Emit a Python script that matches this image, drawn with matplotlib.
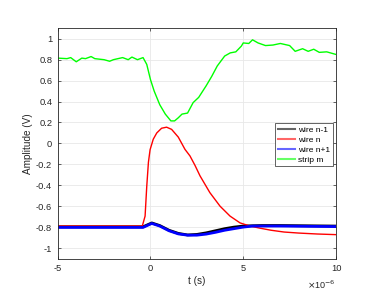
import matplotlib
matplotlib.use("Agg")
import matplotlib.pyplot as plt
from matplotlib.ticker import FuncFormatter

plt.rcParams['font.family'] = ['Liberation Sans', 'DejaVu Sans']
plt.rcParams['axes.unicode_minus'] = False

# times in microseconds
t_green = [-5, -4.5, -4.3, -4, -3.7, -3.5, -3.2, -3, -2.5, -2.2, -2, -1.5, -1.2, -1, -0.7, -0.4,
           -0.2, 0, 0.2, 0.5, 0.8, 1.1, 1.3, 1.5, 1.7, 2.0, 2.3, 2.6, 3.0, 3.3, 3.6, 4.0, 4.3,
           4.6, 4.9, 5.0, 5.3, 5.5, 5.8, 6.2, 6.6, 7.0, 7.5, 7.8, 8.2, 8.5, 8.8, 9.1, 9.5, 10]
strip_m = [0.815, 0.81, 0.82, 0.78, 0.815, 0.81, 0.83, 0.81, 0.80, 0.785, 0.80, 0.82, 0.80, 0.825,
           0.80, 0.82, 0.755, 0.61, 0.50, 0.37, 0.28, 0.215, 0.215, 0.245, 0.28, 0.29, 0.39, 0.44,
           0.55, 0.64, 0.74, 0.835, 0.865, 0.875, 0.93, 0.96, 0.955, 0.99, 0.96, 0.935, 0.94,
           0.955, 0.935, 0.88, 0.905, 0.88, 0.90, 0.87, 0.875, 0.85]

t_red = [-5, -0.44, -0.29, -0.2, -0.11, -0.02, 0.15, 0.34, 0.6, 0.87, 1.14, 1.5, 1.86, 2.13,
         2.4, 2.67, 3.2, 3.75, 4.29, 4.83, 5.37, 5.9, 6.5, 7.2, 8.0, 9.0, 10]
wire_n = [-0.79, -0.79, -0.695, -0.41, -0.18, -0.06, 0.04, 0.10, 0.145, 0.155, 0.134, 0.06,
          -0.057, -0.12, -0.21, -0.31, -0.47, -0.60, -0.695, -0.76, -0.79, -0.81, -0.83,
          -0.847, -0.857, -0.866, -0.872]

t_side = [-5, -0.4, 0.07, 0.5, 1.0, 1.5, 2.0, 2.5, 3.0, 3.5, 4.0, 4.5, 5.0, 5.5, 6.0, 7.0, 10]
wire_nm1 = [-0.797, -0.797, -0.76, -0.785, -0.83, -0.86, -0.875, -0.87, -0.855, -0.835, -0.815,
            -0.80, -0.79, -0.787, -0.785, -0.785, -0.79]
wire_np1 = [-0.803, -0.803, -0.765, -0.79, -0.835, -0.865, -0.877, -0.877, -0.867, -0.85, -0.83,
            -0.815, -0.80, -0.79, -0.79, -0.79, -0.795]

fig = plt.figure(figsize=(3.81, 2.98), dpi=100)
ax = fig.add_axes([57.7/381, 1 - 258.5/298, (336 - 57.7)/381, (258.5 - 28.3)/298])

ax.plot(t_side, wire_nm1, color='black', lw=2.0, label='wire n-1')
ax.plot(t_red, wire_n, color='red', lw=1.0, label='wire n')
ax.plot(t_side, wire_np1, color='blue', lw=2.0, label='wire n+1')
ax.plot(t_green, strip_m, color='#00ff00', lw=1.0, label='strip m')

ax.set_xlim(-5, 10)
ax.set_ylim(-1.1, 1.1)
ax.set_xticks([-5, 0, 5, 10])
ax.set_yticks([-1, -0.8, -0.6, -0.4, -0.2, 0, 0.2, 0.4, 0.6, 0.8, 1])
ax.yaxis.set_major_formatter(FuncFormatter(lambda v, p: ('%g' % round(v, 2))))
ax.grid(True, color='#e8e8e8', lw=0.6)
ax.set_axisbelow(True)
for s in ax.spines.values():
    s.set_color('#262626')
    s.set_linewidth(0.6)
ax.tick_params(direction='in', length=2.5, width=0.5, colors='#262626', labelsize=6.7,
               top=True, right=True, pad=4)
ax.set_xlabel('t (s)', fontsize=7.2, color='#262626', labelpad=2)
ax.set_ylabel('Amplitude (V)', fontsize=7.2, color='#262626', labelpad=2)
ax.text(1.0, -0.115, r'$\times$10$^{-6}$', transform=ax.transAxes, ha='right', va='center',
        fontsize=6.5, color='#262626')

leg = ax.legend(loc='lower left', bbox_to_anchor=(0.781, 0.40), fontsize=6.0, frameon=True,
                fancybox=False, edgecolor='#262626', framealpha=1, borderpad=0.35,
                handlelength=2.0, handletextpad=0.35, labelspacing=0.25, borderaxespad=0)
leg.get_frame().set_linewidth(0.5)
for l in leg.get_lines():
    l.set_linewidth(1.5)
    l.set_alpha(0.6)

fig.savefig('out.png', dpi=100)
